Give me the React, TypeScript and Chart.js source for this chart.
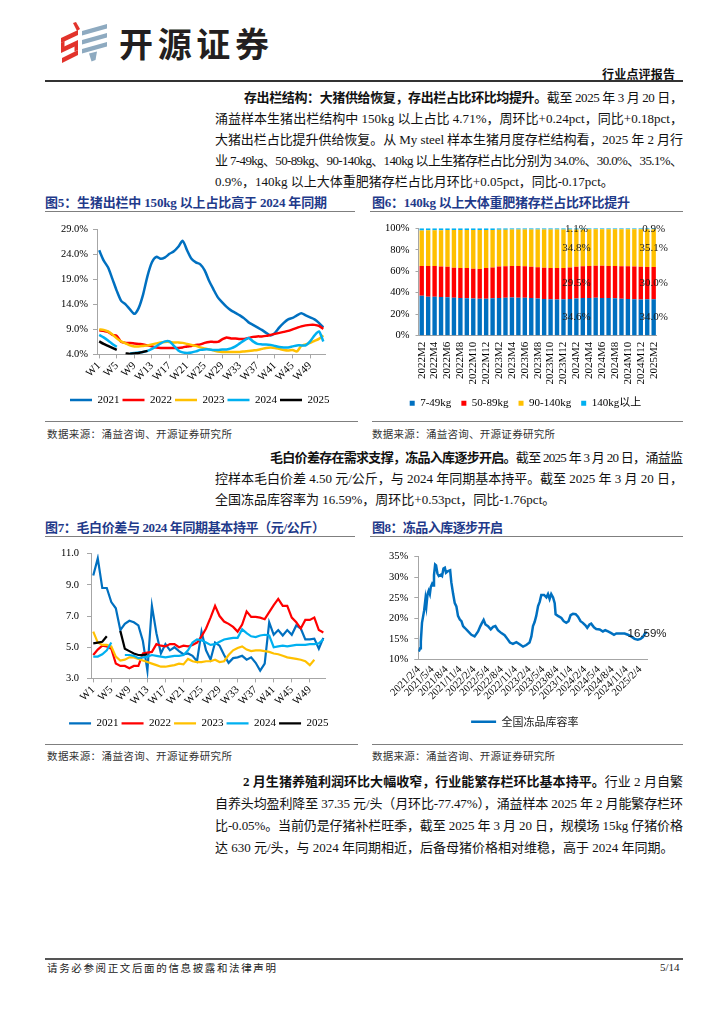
import React, { useEffect, useLayoutEffect, useRef } from "react";
import { Chart, registerables } from "chart.js";

Chart.register(...registerables);

const SERIF = '"Liberation Serif", "Times New Roman", serif';
const BODY = '"Liberation Serif", "Noto Sans CJK SC", serif';
const CJK = '"Noto Sans CJK SC", sans-serif';
const NAVY = "#1f3a8a";
const AXIS = "#a6a6a6";

// ---------- Figure 5: share of hogs > 150kg in slaughter (%) ----------
const weekLabels = [
  "W1","W2","W3","W4","W5","W6","W7","W8","W9","W10","W11","W12","W13","W14","W15","W16","W17","W18","W19","W20",
  "W21","W22","W23","W24","W25","W26","W27","W28","W29","W30","W31","W32","W33","W34","W35","W36","W37","W38","W39","W40",
  "W41","W42","W43","W44","W45","W46","W47","W48","W49","W50","W51","W52",
];
const share2021 = [24.8,22.8,21.4,19.1,16.7,14.7,14.0,13.0,12.1,13.3,16.0,19.7,22.4,23.5,23.1,23.4,24.1,24.6,25.5,26.7,24.8,23.1,22.4,22.0,20.8,18.7,17.0,15.4,14.4,13.5,12.8,12.3,11.8,11.2,10.4,9.9,9.4,8.9,8.3,7.8,8.3,9.4,10.3,11.0,11.3,11.8,12.2,11.8,11.4,11.0,10.3,9.4];
const share2022 = [8.8,8.7,8.5,7.9,7.7,6.5,6.3,6.3,6.2,6.1,6.0,5.8,5.6,5.4,5.3,5.3,5.3,5.3,5.3,5.4,5.6,5.7,5.9,6.0,6.3,6.5,6.5,6.5,7.0,7.4,7.2,7.2,7.1,7.1,7.3,7.5,7.6,7.6,7.7,7.9,8.1,8.3,8.5,8.7,9.0,9.3,9.6,9.8,9.9,9.9,9.7,9.1];
const share2023 = [9.0,8.9,8.6,8.0,7.2,6.6,6.2,5.8,5.6,5.6,5.7,5.8,6.0,6.2,6.4,6.5,6.5,6.4,6.4,6.3,6.1,5.9,5.7,5.4,5.2,5.0,4.8,4.6,4.5,4.5,4.5,4.5,4.5,4.6,4.7,4.8,4.9,5.1,5.3,5.4,5.3,5.1,4.9,4.8,4.9,4.6,5.7,6.0,6.3,6.7,7.1,7.8];
const share2024 = [7.9,7.4,6.8,6.1,5.5,null,null,4.2,4.3,4.4,4.5,4.7,5.1,5.6,6.2,6.6,6.6,5.7,4.8,4.4,4.3,4.4,4.6,4.9,5.0,5.0,4.9,4.9,5.0,5.0,5.2,5.6,6.2,6.8,7.3,6.6,6.1,6.0,6.0,5.9,5.7,5.5,5.4,5.4,5.6,5.8,5.8,5.8,6.6,7.8,8.6,6.6];
const share2025 = [6.6,6.1,5.7,5.3,4.9,null,4.2,4.1,4.2,4.3,4.5,4.71];

// ---------- Figure 6: inventory structure by weight (%) ----------
const monthLabels = [
  "2022M2","2022M3","2022M4","2022M5","2022M6","2022M7","2022M8","2022M9","2022M10","2022M11","2022M12",
  "2023M1","2023M2","2023M3","2023M4","2023M5","2023M6","2023M7","2023M8","2023M9","2023M10","2023M11","2023M12",
  "2024M1","2024M2","2024M3","2024M4","2024M5","2024M6","2024M7","2024M8","2024M9","2024M10","2024M11","2024M12",
  "2025M1","2025M2",
];
const w7to49 = [37.3,36.3,36.2,36.0,35.8,35.3,35.0,34.8,34.6,34.4,34.5,34.8,35.2,35.4,35.5,35.4,35.3,35.0,34.6,34.2,34.0,33.8,33.9,34.2,34.6,35.0,35.2,35.3,35.2,35.0,34.8,34.5,34.2,33.9,33.8,33.9,34.0];
const w50to89 = [27.6,28.7,28.8,28.5,28.4,28.0,28.0,28.2,27.8,27.8,28.5,28.6,29.2,29.3,29.3,29.4,29.4,29.3,29.2,29.1,29.0,29.2,29.1,29.4,29.5,29.6,29.8,29.8,29.9,30.0,30.1,30.2,30.4,30.6,30.4,30.1,30.0];
const w90to140 = [33.1,33.1,33.2,33.8,34.2,35.2,35.5,35.5,36.1,36.2,35.4,35.1,34.2,34.0,34.0,34.0,34.1,34.5,35.0,35.5,35.8,35.9,35.9,35.3,34.8,34.3,34.0,33.9,33.9,34.0,34.1,34.4,34.5,34.6,34.9,35.1,35.1];
const w140plus = [2.0,1.9,1.8,1.7,1.6,1.5,1.5,1.5,1.5,1.6,1.6,1.5,1.4,1.3,1.2,1.2,1.2,1.2,1.2,1.2,1.2,1.1,1.1,1.1,1.1,1.1,1.0,1.0,1.0,1.0,1.0,0.9,0.9,0.9,0.9,0.9,0.9];
const labelledMonths = [24, 36];

// ---------- Figure 7: live / carcass price spread (yuan/kg) ----------
const spread2021 = [9.6,10.7,8.8,8.8,7.9,7.5,6.1,6.5,6.7,6.6,6.4,5.4,3.5,7.65,5.9,4.6,5.2,4.8,5.0,4.75,4.55,4.6,4.45,4.1,6.0,4.8,4.2,5.3,5.1,4.5,4.0,4.3,4.35,4.45,4.2,4.35,4.0,3.5,3.95,6.6,5.8,6.1,5.75,6.1,5.8,6.4,6.2,5.5,5.5,5.55,4.9,5.6];
const spread2022 = [4.5,4.85,5.1,5.05,4.9,3.95,3.8,3.8,3.65,3.8,3.8,4.6,4.65,4.7,5.2,5.1,5.05,5.2,5.2,5.0,5.1,5.05,5.15,5.3,5.7,6.2,6.9,7.65,7.0,6.65,6.5,6.3,6.0,6.45,7.3,6.95,6.95,6.9,6.8,7.25,7.7,8.1,7.65,7.65,6.9,6.6,6.2,6.75,6.75,6.9,6.1,5.95];
const spread2023 = [6.0,5.3,5.15,5.15,5.05,4.4,4.15,4.2,4.35,4.35,4.25,4.15,4.05,3.95,3.85,3.75,3.75,3.8,3.85,3.95,3.9,4.25,4.1,4.05,4.05,4.1,4.1,4.2,4.05,4.1,4.5,4.8,4.95,5.05,4.85,4.75,4.8,4.8,4.75,4.7,4.6,4.55,4.45,4.35,4.3,4.25,4.2,4.1,3.85,4.2];
const spread2024 = [4.4,4.4,4.55,4.8,5.3,null,null,4.5,4.5,4.45,4.3,4.35,4.4,4.5,4.45,4.4,4.35,4.4,4.45,4.45,4.5,4.8,5.3,5.5,5.45,5.3,5.15,5.2,5.35,5.5,5.55,5.6,5.6,6.15,5.9,5.7,5.65,5.75,5.8,5.75,5.0,5.05,5.1,5.05,5.1,5.15,5.15,5.15,5.2,5.2,5.25,5.5];
const spread2025 = [5.25,5.3,5.35,5.7,null,null,6.05,4.9,4.75,4.6,4.5,4.5,4.55];

// ---------- Figure 8: frozen-product storage rate (%) ----------
const dateLabels = ["2021/2/4","2021/5/4","2021/8/4","2021/11/4","2022/2/4","2022/5/4","2022/8/4","2022/11/4","2023/2/4","2023/5/4","2023/8/4","2023/11/4","2024/2/4","2024/5/4","2024/8/4","2024/11/4","2025/2/4"];
// months elapsed since 2021/2/4
const frozenMonths = [0,0.3,0.45,0.7,1.15,1.45,1.65,1.9,2.15,2.4,2.6,2.9,3.1,3.3,3.55,3.75,4.05,4.35,4.75,5.05,5.35,5.65,5.9,6.35,6.8,7.05,7.45,7.8,8.15,8.5,8.9,9.25,9.6,9.95,10.7,11.4,12.1,12.85,13.35,13.7,14.05,14.45,15.0,15.6,16.1,16.6,17.15,17.9,18.6,19.2,19.75,20.4,21.15,21.85,22.6,23.3,24.0,24.4,24.75,25.1,25.45,25.85,26.2,26.55,27.15,27.65,28.0,28.35,28.7,29.1,29.45,29.65,30.15,30.9,31.4,31.95,32.45,32.9,33.4,34.0,34.5,35.05,35.55,36.1,36.5,37.0,37.35,37.95,38.45,39.2,39.9,40.4,41.0,41.7,42.3,42.8,43.5,44.6,45.3,46.0,46.75,47.45,48.05,48.55,49.05,49.45];
const frozenRates = [11.9,12.7,14.4,18.9,21.8,24.7,23.0,25.9,26.7,25.9,27.6,28.4,28.0,30.5,33.1,32.9,30.9,30.3,30.6,30.3,32.1,32.3,31.1,31.5,31.7,28.8,25.9,23.7,22.9,20.6,19.7,19.3,18.1,17.7,16.8,16.0,15.6,16.8,18.1,18.9,19.6,18.5,18.1,17.3,17.9,18.1,17.1,16.4,15.9,15.0,14.1,13.8,14.2,13.7,13.1,13.5,14.1,15.6,18.1,19.1,20.6,23.0,24.0,25.7,25.7,25.1,25.9,24.7,25.9,25.1,23.7,21.0,20.6,20.1,19.3,18.9,19.3,20.8,21.1,21.0,20.4,19.3,18.9,18.3,17.7,18.5,18.7,17.8,17.4,17.3,16.8,17.1,16.8,16.4,16.0,16.3,16.3,16.3,16.0,15.6,15.0,14.8,15.0,15.4,16.4,16.59];

const yearColors = ["#0070C0", "#FF0000", "#FFC000", "#00B0F0", "#000000"];
const yearNames = ["2021", "2022", "2023", "2024", "2025"];

function legendShift(dx: number) {
  return {
    id: "legendShift",
    afterLayout(chart: any) {
      const l = chart.legend;
      if (l) {
        l.left += dx;
        l.right += dx;
      }
    },
  };
}

function lineDatasets(series: any[], width: number, tension: number) {
  return series.map((d, i) => ({
    label: yearNames[i],
    data: d,
    borderColor: yearColors[i],
    backgroundColor: yearColors[i],
    borderWidth: width,
    pointRadius: 0,
    tension,
    spanGaps: false,
    fill: false,
    order: 5 - i,
  }));
}

function yearLegend() {
  return {
    position: "bottom",
    labels: {
      usePointStyle: true,
      pointStyle: "line",
      pointStyleWidth: 22,
      padding: 3,
      color: "#000",
      font: { family: SERIF, size: 11 },
      sort: (a: any, b: any) => a.datasetIndex - b.datasetIndex,
    },
  };
}

function weekAxis(height: number) {
  return {
    type: "category",
    offset: true,
    grid: {
      display: true,
      drawOnChartArea: false,
      drawTicks: true,
      tickLength: 4,
      tickColor: (c: any) => (c.index % 4 === 0 ? AXIS : "rgba(0,0,0,0)"),
    },
    border: { display: true, color: AXIS },
    ticks: {
      autoSkip: false,
      minRotation: 45,
      maxRotation: 45,
      padding: 1,
      color: "#000",
      font: { family: SERIF, size: 11 },
      callback: (_v: any, i: number) => (i % 4 === 0 ? weekLabels[i] : ""),
    },
    afterFit: (s: any) => {
      s.height = height;
      s.paddingLeft = 0;
      s.paddingRight = 0;
    },
  };
}

function valueAxis(min: number, max: number, step: number, fmt: (v: number) => string, width: number, pad: number) {
  return {
    min,
    max,
    grid: { display: true, drawOnChartArea: false, drawTicks: true, tickLength: 4, color: AXIS },
    border: { display: true, color: AXIS },
    ticks: {
      stepSize: step,
      padding: pad,
      color: "#000",
      font: { family: SERIF, size: 10.5 },
      callback: (v: any) => fmt(Number(v)),
    },
    afterFit: (s: any) => {
      s.width = width;
    },
  };
}

function buildFig5() {
  return {
    type: "line",
    data: {
      labels: weekLabels,
      datasets: lineDatasets([share2021, share2022, share2023, share2024, share2025], 2.5, 0.25),
    },
    options: {
      responsive: false,
      animation: false,
      devicePixelRatio: 1,
      layout: { padding: { left: 0, right: 34.5, top: 17.3, bottom: 3.5 } },
      plugins: { legend: yearLegend(), tooltip: { enabled: false } },
      scales: {
        x: weekAxis(37.1),
        y: valueAxis(4, 29, 5, (v) => v.toFixed(1) + "%", 57, 5),
      },
    },
    plugins: [legendShift(17)],
  };
}

function buildFig7() {
  return {
    type: "line",
    data: {
      labels: weekLabels,
      datasets: lineDatasets([spread2021, spread2022, spread2023, spread2024, spread2025], 2.2, 0),
    },
    options: {
      responsive: false,
      animation: false,
      devicePixelRatio: 1,
      layout: { padding: { left: 0, right: 34.4, top: 15.7, bottom: 2.2 } },
      plugins: { legend: yearLegend(), tooltip: { enabled: false } },
      scales: {
        x: weekAxis(36.4),
        y: valueAxis(3, 11, 2, (v) => v.toFixed(1), 51, 8),
      },
    },
    plugins: [legendShift(16)],
  };
}

const barLabelPlugin = {
  id: "barLabels",
  afterDatasetsDraw(chart: any) {
    const ctx = chart.ctx;
    ctx.save();
    ctx.font = `11px ${SERIF}`;
    ctx.fillStyle = "#1a1a1a";
    ctx.textAlign = "center";
    ctx.textBaseline = "middle";
    chart.data.datasets.forEach((ds: any, di: number) => {
      const meta = chart.getDatasetMeta(di);
      labelledMonths.forEach((i) => {
        const el = meta.data[i];
        if (!el) return;
        const p = el.getProps(["x", "y", "base"], true);
        ctx.fillText(Number(ds.data[i]).toFixed(1) + "%", p.x, (p.y + p.base) / 2);
      });
    });
    ctx.restore();
  },
};

function buildFig6() {
  const series = [
    { label: "7-49kg", data: w7to49, color: "#0070C0" },
    { label: "50-89kg", data: w50to89, color: "#FF0000" },
    { label: "90-140kg", data: w90to140, color: "#FFC000" },
    { label: "140kg以上", data: w140plus, color: "#00B0F0" },
  ];
  return {
    type: "bar",
    data: {
      labels: monthLabels,
      datasets: series.map((s) => ({
        label: s.label,
        data: s.data,
        backgroundColor: s.color,
        borderColor: s.color,
        borderWidth: 0,
        barPercentage: 0.85,
        categoryPercentage: 0.8,
      })),
    },
    options: {
      responsive: false,
      animation: false,
      devicePixelRatio: 1,
      layout: { padding: { left: 0, right: 33.1, top: 16.3, bottom: 1.2 } },
      plugins: {
        legend: {
          position: "bottom",
          labels: {
            boxWidth: 5,
            boxHeight: 5,
            padding: 10,
            color: "#000",
            font: { family: BODY, size: 11 },
          },
        },
        tooltip: { enabled: false },
      },
      scales: {
        x: {
          stacked: true,
          grid: { display: false, drawTicks: false },
          border: { display: true, color: AXIS },
          ticks: {
            autoSkip: false,
            minRotation: 90,
            maxRotation: 90,
            padding: 6,
            color: "#000",
            font: { family: SERIF, size: 11 },
            callback: (_v: any, i: number) => (i % 2 === 0 ? monthLabels[i] : ""),
          },
          afterFit: (s: any) => {
            s.height = 52.1;
          },
        },
        y: {
          stacked: true,
          min: 0,
          max: 100,
          grid: { display: true, drawOnChartArea: false, drawTicks: true, tickLength: 3, color: AXIS },
          border: { display: true, color: AXIS },
          ticks: {
            stepSize: 10,
            padding: 6,
            color: "#000",
            font: { family: SERIF, size: 10.5 },
            callback: (v: any) => v + "%",
          },
          afterFit: (s: any) => {
            s.width = 48.5;
          },
        },
      },
    },
    plugins: [barLabelPlugin, legendShift(12)],
  };
}

const endLabelPlugin = {
  id: "endLabel",
  afterDatasetsDraw(chart: any) {
    const meta = chart.getDatasetMeta(0);
    const last = meta.data.length - 1;
    const pt = meta.data[last];
    if (!pt) return;
    const ctx = chart.ctx;
    ctx.save();
    ctx.font = '11.5px "Liberation Sans", Arial, sans-serif';
    ctx.fillStyle = "#1a1a1a";
    ctx.textAlign = "center";
    ctx.textBaseline = "middle";
    ctx.fillText(frozenRates[last].toFixed(2) + "%", pt.x, pt.y + 1);
    ctx.restore();
  },
};

function buildFig8() {
  return {
    type: "line",
    data: {
      datasets: [
        {
          label: "全国冻品库容率",
          data: frozenMonths.map((m, i) => ({ x: m, y: frozenRates[i] })),
          borderColor: "#0070C0",
          backgroundColor: "#0070C0",
          borderWidth: 2.5,
          pointRadius: 0,
          tension: 0,
          fill: false,
        },
      ],
    },
    options: {
      responsive: false,
      animation: false,
      devicePixelRatio: 1,
      layout: { padding: { left: 0, right: 42.3, top: 16.7, bottom: 3.8 } },
      plugins: {
        legend: {
          position: "bottom",
          labels: {
            usePointStyle: true,
            pointStyle: "line",
            pointStyleWidth: 25,
            padding: 3,
            color: "#222",
            font: { family: CJK, size: 11 },
          },
        },
        tooltip: { enabled: false },
      },
      scales: {
        x: {
          type: "linear",
          min: -0.1,
          max: 49.6,
          afterBuildTicks: (s: any) => {
            s.ticks = dateLabels.map((_l, i) => ({ value: i * 3 }));
          },
          grid: { display: false, drawTicks: false },
          border: { display: true, color: AXIS },
          ticks: {
            autoSkip: false,
            minRotation: 45,
            maxRotation: 45,
            padding: 4,
            color: "#000",
            font: { family: SERIF, size: 10.5 },
            callback: (v: any) => dateLabels[Math.round(Number(v) / 3)] || "",
          },
          afterFit: (s: any) => {
            s.height = 53.8;
            s.paddingLeft = 0;
            s.paddingRight = 0;
          },
        },
        y: valueAxis(10, 35, 5, (v) => v + "%", 48.3, 6),
      },
    },
    plugins: [endLabelPlugin, legendShift(16)],
  };
}

function ChartCanvas({ left, top, width, height, build }: any) {
  const ref = useRef<HTMLCanvasElement>(null);
  useEffect(() => {
    const chart = new Chart(ref.current as HTMLCanvasElement, build());
    return () => chart.destroy();
  }, []);
  return (
    <canvas
      ref={ref}
      width={width}
      height={height}
      style={{ position: "absolute", left, top, width, height }}
    />
  );
}

function TextLine({ x, y, w, size = 13, color = "#111", family = BODY, bold = false, children }: any) {
  const ref = useRef<HTMLDivElement>(null);
  useLayoutEffect(() => {
    const el = ref.current;
    if (!el || !w) return;
    const fit = () => {
      el.style.letterSpacing = "0px";
      const natural = el.getBoundingClientRect().width;
      const n = Array.from(el.textContent || "").length;
      if (n > 1) el.style.letterSpacing = `${(w - natural) / (n - 1)}px`;
    };
    fit();
    const fonts = (document as any).fonts;
    if (fonts && fonts.ready) fonts.ready.then(fit);
  }, [w]);
  const lh = Math.round(size * 1.4);
  return (
    <div
      ref={ref}
      style={{
        position: "absolute",
        left: x,
        top: y - lh / 2,
        whiteSpace: "nowrap",
        fontSize: size,
        lineHeight: `${lh}px`,
        color,
        fontFamily: family,
        fontWeight: bold ? 700 : 400,
      }}
    >
      {children}
    </div>
  );
}

function Rule({ x1, x2, y, h = 1, color = "#808080" }: any) {
  return <div style={{ position: "absolute", left: x1, top: y, width: x2 - x1, height: h, background: color }} />;
}

const B = ({ children }: any) => <span style={{ fontWeight: 700 }}>{children}</span>;

function Logo() {
  return (
    <svg style={{ position: "absolute", left: 0, top: 0 }} width={120} height={70}>
      <g fill="#E2332B">
        <polygon points="73,23 76,22 80,29 77,31" />
        <polygon points="61,38 78,30 78,35 61,43" />
        <polygon points="61,43 64.5,41 64.5,47 61,48.5" />
        <polygon points="61,48 78,40 78,45 61,53" />
        <polygon points="74.5,44.5 78,44 78,50 74.5,51.5" />
        <polygon points="62,58 78,50 78,55 62,63" />
      </g>
      <g fill="#8EAAC0">
        <polygon points="82,31 107,24 107,28.5 82,35.5" />
        <polygon points="82,40 107,33 107,37.5 82,44.5" />
        <polygon points="82,49 107,42 107,46.5 82,53.5" />
        <polygon points="89,53.5 97,51.5 95.5,60 91.5,61.5" />
      </g>
    </svg>
  );
}

export default function App() {
  useEffect(() => {
    document.body.style.margin = "0";
    document.body.style.background = "#fff";
  }, []);
  const srcText = "数据来源：涌益咨询、开源证券研究所";
  return (
    <div style={{ position: "absolute", left: 0, top: 0, width: 724, height: 1024, background: "#fff", overflow: "hidden" }}>
      <Logo />
      <TextLine x={119} y={43} w={150} size={34} bold family={CJK} color="#231f20">开源证券</TextLine>
      <TextLine x={602} y={73} w={73} size={12} bold family={CJK} color="#111">行业点评报告</TextLine>
      <Rule x1={45} x2={683} y={80} h={1.5} color="#333" />

      {/* Paragraph 1 */}
      <TextLine x={244} y={98} w={439}>
        <B>存出栏结构：大猪供给恢复，存出栏占比环比均提升。</B>截至 2025 年 3 月 20 日，
      </TextLine>
      <TextLine x={215} y={119} w={468}>涌益样本生猪出栏结构中 150kg 以上占比 4.71%，周环比+0.24pct，同比+0.18pct，</TextLine>
      <TextLine x={215} y={140} w={468}>大猪出栏占比提升供给恢复。从 My steel 样本生猪月度存栏结构看，2025 年 2 月行</TextLine>
      <TextLine x={215} y={161} w={468}>业 7-49kg、50-89kg、90-140kg、140kg 以上生猪存栏占比分别为 34.0%、30.0%、35.1%、</TextLine>
      <TextLine x={215} y={182}>0.9%，140kg 以上大体重肥猪存栏占比月环比+0.05pct，同比-0.17pct。</TextLine>

      {/* Figure titles row 1 */}
      <TextLine x={45} y={203} w={282} size={13} bold color={NAVY}>图5：生猪出栏中 150kg 以上占比高于 2024 年同期</TextLine>
      <Rule x1={45} x2={355} y={211} color="#7f7f7f" />
      <TextLine x={372} y={203} w={258} size={13} bold color={NAVY}>图6：140kg 以上大体重肥猪存栏占比环比提升</TextLine>
      <Rule x1={370} x2={683} y={211} color="#7f7f7f" />

      <ChartCanvas left={40} top={212} width={320} height={207} build={buildFig5} />
      <ChartCanvas left={370} top={212} width={320} height={208} build={buildFig6} />

      <Rule x1={45} x2={358} y={421} color="#7f7f7f" />
      <Rule x1={372} x2={683} y={421} color="#7f7f7f" />
      <TextLine x={47} y={433} w={185} size={10.5} family={CJK} color="#333">{srcText}</TextLine>
      <TextLine x={372} y={433} w={183} size={10.5} family={CJK} color="#333">{srcText}</TextLine>

      {/* Paragraph 2 */}
      <TextLine x={270} y={458} w={413}>
        <B>毛白价差存在需求支撑，冻品入库逐步开启。</B>截至 2025 年 3 月 20 日，涌益监
      </TextLine>
      <TextLine x={215} y={479} w={468}>控样本毛白价差 4.50 元/公斤，与 2024 年同期基本持平。截至 2025 年 3 月 20 日，</TextLine>
      <TextLine x={215} y={500}>全国冻品库容率为 16.59%，周环比+0.53pct，同比-1.76pct。</TextLine>

      {/* Figure titles row 2 */}
      <TextLine x={45} y={528} w={280} size={13} bold color={NAVY}>图7：毛白价差与 2024 年同期基本持平（元/公斤）</TextLine>
      <Rule x1={45} x2={355} y={536} color="#7f7f7f" />
      <TextLine x={372} y={528} w={131} size={13} bold color={NAVY}>图8：冻品入库逐步开启</TextLine>
      <Rule x1={370} x2={683} y={536} color="#7f7f7f" />

      <ChartCanvas left={40} top={538} width={320} height={203} build={buildFig7} />
      <ChartCanvas left={370} top={540} width={320} height={201} build={buildFig8} />

      <Rule x1={45} x2={358} y={744} color="#7f7f7f" />
      <Rule x1={372} x2={683} y={744} color="#7f7f7f" />
      <TextLine x={47} y={755} w={185} size={10.5} family={CJK} color="#333">{srcText}</TextLine>
      <TextLine x={372} y={755} w={183} size={10.5} family={CJK} color="#333">{srcText}</TextLine>

      {/* Paragraph 3 */}
      <TextLine x={243} y={782} w={440}>
        <B>2 月生猪养殖利润环比大幅收窄，行业能繁存栏环比基本持平。</B>行业 2 月自繁
      </TextLine>
      <TextLine x={215} y={804} w={468}>自养头均盈利降至 37.35 元/头（月环比-77.47%），涌益样本 2025 年 2 月能繁存栏环</TextLine>
      <TextLine x={215} y={826} w={468}>比-0.05%。当前仍是仔猪补栏旺季，截至 2025 年 3 月 20 日，规模场 15kg 仔猪价格</TextLine>
      <TextLine x={215} y={848}>达 630 元/头，与 2024 年同期相近，后备母猪价格相对维稳，高于 2024 年同期。</TextLine>

      {/* Footer */}
      <Rule x1={45} x2={683} y={958} h={2} color="#555" />
      <TextLine x={47} y={967} w={229} size={10.5} family={CJK} color="#222">请务必参阅正文后面的信息披露和法律声明</TextLine>
      <TextLine x={660} y={967} size={11} family={SERIF} color="#222">5/14</TextLine>
    </div>
  );
}
